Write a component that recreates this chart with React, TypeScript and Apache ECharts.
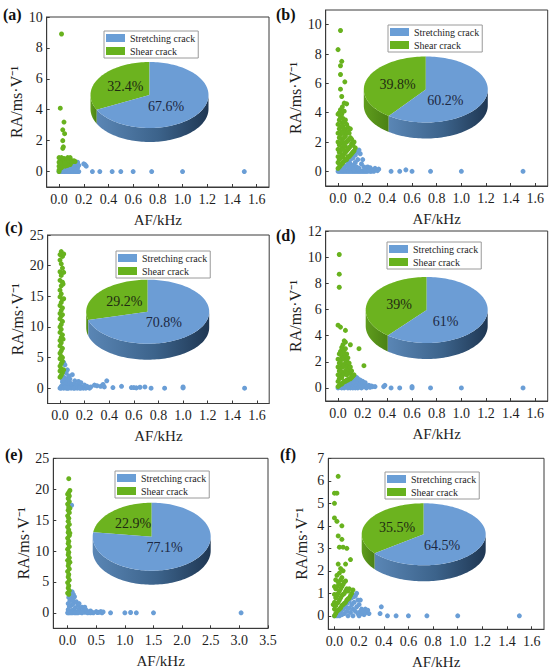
import React, { useEffect, useRef } from 'react';
import * as echarts from 'echarts';

const SERIF = 'Liberation Serif';
const LEGEND_NAMES = ['Stretching crack', 'Shear crack'];
const PANEL_LABELS = ['(a)', '(b)', '(c)', '(d)', '(e)', '(f)'];
const X_NAME = 'AF/kHz';
const Y_NAME = 'RA/ms·V⁻¹';

const xTicks16 = [0, 0.2, 0.4, 0.6, 0.8, 1.0, 1.2, 1.4, 1.6];
const xTicks35 = [0, 0.5, 1.0, 1.5, 2.0, 2.5, 3.0, 3.5];
const yTicksA = [0, 2, 4, 6, 8, 10];
const yTicksB = [0, 2, 4, 6, 8, 10];
const yTicksC = [0, 5, 10, 15, 20, 25];
const yTicksD = [0, 2, 4, 6, 8, 10, 12];
const yTicksE = [0, 5, 10, 15, 20, 25];
const yTicksF = [0, 1, 2, 3, 4, 5, 6, 7];

const shearPct = [32.4, 39.8, 29.2, 39, 22.9, 35.5];
const stretchPct = [67.6, 60.2, 70.8, 61, 77.1, 64.5];

// ---- panel (a)
const aBlue = [
  [0, 0], [0.01, 0], [0.02, 0], [0.03, 0], [0.04, 0], [0.05, 0], [0.06, 0], [0.07, 0], [0.08, 0], [0.09, 0],
  [0.1, 0], [0.11, 0], [0.12, 0], [0.13, 0], [0.14, 0], [0.15, 0], [0.16, 0],
  [0.03, 0.05], [0.05, 0.1], [0.07, 0.15], [0.08, 0.08], [0.09, 0.25], [0.1, 0.12], [0.11, 0.3], [0.12, 0.2],
  [0.12, 0.45], [0.13, 0.35], [0.14, 0.1], [0.14, 0.55], [0.15, 0.25], [0.15, 0.6], [0.16, 0.4], [0.06, 0.2],
  [0.1, 0.4], [0.13, 0.5], [0.2, 0.5], [0.21, 0.45], [0.22, 0.35],
  [0.27, 0], [0.33, 0], [0.43, 0], [0.5, 0], [0.6, 0], [0.75, 0], [1.0, 0], [1.5, 0],
];
const aGreen = [
  [0.02, 8.9], [0.01, 4.1], [0.04, 3.2], [0.03, 2.7], [0.045, 2.45], [0.03, 2.0], [0.035, 1.6], [0.03, 1.5],
  [0.0, 0.9], [0.02, 0.9], [0.04, 0.85], [0.07, 0.9], [0.09, 0.9], [0.0, 0.6], [0.01, 0.75], [0.03, 0.7],
  [0.05, 0.7], [0.06, 0.8], [0.08, 0.75], [0.1, 0.7], [0.11, 0.65], [0.12, 0.7], [0.13, 0.65], [0.0, 0.35],
  [0.02, 0.45], [0.04, 0.5], [0.06, 0.5], [0.08, 0.55], [0.09, 0.45], [0.1, 0.6], [0.0, 0.1], [0.01, 0.2],
  [0.02, 0.25], [0.03, 0.35], [0.05, 0.35], [0.07, 0.4], [0.0, 0.0], [0.01, 0.55], [0.05, 0.55],
];

// ---- panel (b)
const bBlue = [
  [0, 0], [0.01, 0], [0.02, 0], [0.03, 0], [0.04, 0], [0.05, 0], [0.06, 0], [0.07, 0], [0.08, 0], [0.09, 0],
  [0.1, 0], [0.11, 0], [0.12, 0], [0.13, 0], [0.14, 0], [0.15, 0], [0.16, 0], [0.17, 0], [0.18, 0], [0.19, 0],
  [0.2, 0], [0.21, 0], [0.22, 0], [0.23, 0], [0.24, 0], [0.26, 0], [0.27, 0], [0.29, 0],
  [0.03, 0.1], [0.05, 0.2], [0.06, 0.35], [0.08, 0.3], [0.08, 0.6], [0.1, 0.2], [0.1, 0.5], [0.1, 0.8],
  [0.12, 0.4], [0.12, 0.9], [0.13, 0.15], [0.14, 0.6], [0.14, 1.1], [0.15, 0.3], [0.15, 1.3], [0.16, 0.8],
  [0.17, 1.45], [0.17, 0.2], [0.18, 1.2], [0.19, 0.5], [0.2, 0.8], [0.21, 0.3], [0.22, 0.15], [0.24, 0.3],
  [0.25, 0.1], [0.26, 0.25], [0.28, 0.1], [0.3, 0.2], [0.32, 0.05], [0.33, 0.15],
  [0.43, 0], [0.5, 0], [0.55, 0.1], [0.6, 0], [0.75, 0], [1.0, 0], [1.5, 0],
];
const bGreen = [
  [0.02, 9.6], [0.0, 8.3], [0.03, 7.5], [0.02, 7.2], [0.02, 6.6], [0.055, 6.1], [0.02, 5.6], [0.03, 5.1],
  [0.05, 4.65], [0.07, 4.6], [0.0, 3.9], [0.02, 4.2], [0.035, 4.4],
  [0.0, 0.2], [0.0, 0.6], [0.0, 1.0], [0.0, 1.5], [0.0, 2.0], [0.0, 2.6], [0.0, 3.2],
  [0.01, 0.3], [0.01, 0.8], [0.01, 1.3], [0.01, 1.8], [0.01, 2.3], [0.01, 2.9], [0.01, 3.5], [0.01, 4.0],
  [0.02, 0.4], [0.02, 0.9], [0.02, 1.4], [0.02, 1.9], [0.02, 2.5], [0.02, 3.0], [0.02, 3.7],
  [0.03, 0.5], [0.03, 1.1], [0.03, 1.6], [0.03, 2.2], [0.03, 2.7], [0.03, 3.3], [0.03, 3.9],
  [0.04, 0.6], [0.04, 1.0], [0.04, 1.5], [0.04, 2.0], [0.04, 2.6], [0.04, 3.1], [0.04, 3.6],
  [0.05, 0.7], [0.05, 1.2], [0.05, 1.8], [0.05, 2.3], [0.05, 2.9], [0.05, 3.4], [0.05, 4.1],
  [0.06, 0.8], [0.06, 1.3], [0.06, 1.7], [0.06, 2.4], [0.06, 2.8], [0.06, 3.5],
  [0.07, 0.8], [0.07, 1.4], [0.07, 2.0], [0.07, 2.6], [0.07, 3.2],
  [0.08, 1.0], [0.08, 1.5], [0.08, 2.1], [0.08, 2.7], [0.08, 3.0],
  [0.09, 1.0], [0.09, 1.6], [0.09, 2.2], [0.09, 2.6],
  [0.1, 1.1], [0.1, 1.7], [0.1, 2.3], [0.1, 2.9],
  [0.11, 1.2], [0.11, 1.9], [0.11, 2.2], [0.12, 1.3], [0.12, 1.8], [0.13, 1.4], [0.13, 2.0], [0.14, 1.6],
];

// ---- panel (c)
const cBlue = [
  [0, 0], [0.01, 0.3], [0.02, 1.0], [0.02, 0.2], [0.03, 0.6], [0.03, 1.8], [0.04, 0.1], [0.04, 1.2],
  [0.05, 0.4], [0.05, 0.9], [0.06, 0.0], [0.06, 1.5], [0.07, 0.5], [0.08, 0.2], [0.08, 0.9], [0.09, 0.0],
  [0.1, 0.6], [0.1, 0.1], [0.11, 0.3], [0.12, 0.0], [0.12, 0.7], [0.13, 0.2], [0.14, 0.0], [0.14, 0.5],
  [0.15, 0.1], [0.16, 0.3], [0.17, 0.0], [0.18, 0.2], [0.19, 0.0], [0.2, 0.1], [0.21, 0.0], [0.23, 0.1],
  [0.24, 0.0], [0.01, 0.0], [0.03, 0.0], [0.05, 0.0], [0.07, 0.0], [0.11, 0.0], [0.16, 0.0], [0.02, 1.4], [0.01, 1.9],
  [0.03, 4.2], [0.04, 3.8], [0.06, 3.0], [0.05, 2.5], [0.07, 2.0], [0.1, 2.2], [0.08, 1.5], [0.12, 1.2],
  [0.15, 1.1], [0.17, 0.9], [0.2, 0.5], [0.22, 0.3], [0.25, 0.2], [0.28, 0.5], [0.3, 0.4], [0.33, 0.3],
  [0.35, 0.6], [0.36, 0.2], [0.38, 1.2], [0.43, 0.1], [0.5, 0.3], [0.58, 0.1], [0.6, 0.1], [0.62, 0.05],
  [0.65, 0.15], [0.69, 0.2], [0.74, 0.0], [0.85, 0.0], [1.0, 0.2], [1.0, 0.05], [1.5, 0.0],
];
const cGreen = [
  [0.01, 22.3], [0.0, 21.8], [0.02, 21.5], [0.0, 20.9], [0.01, 20.3], [0.02, 19.6], [0.0, 19.0], [0.01, 18.4],
  [0.0, 17.6], [0.02, 17.3], [0.01, 16.7], [0.0, 16.0], [0.01, 15.4], [0.0, 14.9], [0.02, 14.5], [0.01, 14.0],
  [0.0, 13.5], [0.02, 13.1], [0.01, 12.7], [0.0, 12.2], [0.01, 11.8], [0.0, 11.3], [0.02, 10.9], [0.01, 10.4],
  [0.0, 10.0], [0.01, 9.6], [0.0, 9.1], [0.02, 8.7], [0.01, 8.3], [0.0, 7.8], [0.01, 7.4], [0.0, 6.9],
  [0.02, 6.5], [0.01, 6.1], [0.0, 5.7], [0.01, 5.2], [0.0, 4.8], [0.02, 4.4], [0.01, 4.0], [0.0, 3.6],
  [0.01, 3.2], [0.0, 2.8], [0.02, 2.5], [0.01, 2.1], [0.0, 1.8],
  [0.03, 21.9], [0.03, 18.9], [0.025, 17.0], [0.03, 14.6], [0.02, 12.0], [0.025, 8.0], [0.02, 5.0], [0.03, 3.0],
];

// ---- panel (d)
const dBlue = [
  [0.0, 0.0], [0.02, 0.05], [0.03, 0.0], [0.04, 0.15], [0.05, 0.0], [0.06, 0.3], [0.07, 0.1], [0.08, 0.4],
  [0.08, 0.0], [0.09, 0.2], [0.1, 0.5], [0.1, 0.0], [0.11, 0.3], [0.12, 0.6], [0.12, 0.1], [0.12, 0.0],
  [0.13, 0.4], [0.14, 0.7], [0.14, 0.0], [0.15, 0.2], [0.16, 0.45], [0.16, 0.0], [0.17, 0.1], [0.18, 0.3],
  [0.19, 0.0], [0.2, 0.2], [0.21, 0.1], [0.23, 0.0], [0.24, 0.15], [0.26, 0.05],
  [0.15, 0.8], [0.16, 0.7], [0.18, 0.6], [0.2, 0.5], [0.22, 0.4], [0.25, 0.2], [0.27, 0.15], [0.28, 0.1],
  [0.3, 0.1], [0.37, 0.1], [0.38, 0.2], [0.43, 0.0], [0.5, 0.0], [0.6, 0.0], [0.6, 0.1], [0.75, 0.0],
  [1.0, 0.0], [1.5, 0.0],
];
const dGreen = [
  [0.01, 10.2], [0.01, 8.7], [0.01, 7.7], [0.0, 4.8], [0.02, 4.65], [0.06, 4.4], [0.05, 3.6], [0.06, 3.5],
  [0.1, 3.3], [0.17, 3.0], [0.21, 1.7],
  [0.0, 0.1], [0.0, 0.5], [0.0, 1.0], [0.0, 1.6], [0.0, 2.2],
  [0.01, 0.2], [0.01, 0.7], [0.01, 1.3], [0.01, 1.9], [0.01, 2.6],
  [0.02, 0.3], [0.02, 0.9], [0.02, 1.5], [0.02, 2.1], [0.02, 2.8],
  [0.03, 0.3], [0.03, 0.8], [0.03, 1.2], [0.03, 1.8], [0.03, 2.4], [0.03, 3.1],
  [0.04, 0.4], [0.04, 1.0], [0.04, 1.6], [0.04, 2.2], [0.04, 2.7], [0.04, 3.3],
  [0.05, 0.5], [0.05, 1.1], [0.05, 1.7], [0.05, 2.3], [0.05, 2.9],
  [0.06, 0.5], [0.06, 1.3], [0.06, 1.9], [0.06, 2.5], [0.06, 3.0],
  [0.07, 0.6], [0.07, 1.0], [0.07, 1.6], [0.07, 2.1], [0.07, 2.6],
  [0.08, 0.6], [0.08, 1.2], [0.08, 1.8], [0.08, 2.3],
  [0.09, 0.7], [0.09, 1.4], [0.09, 1.9], [0.1, 0.7], [0.1, 1.1], [0.1, 1.6],
  [0.11, 0.8], [0.11, 1.3], [0.12, 0.9], [0.13, 1.0],
];

// ---- panel (e)
const eBlue = [
  [0.07, 17.4],
  [0.0, 0.0], [0.01, 0.5], [0.01, 1.5], [0.02, 2.5], [0.03, 0.2], [0.03, 1.0], [0.04, 2.0], [0.05, 3.0],
  [0.05, 0.0], [0.06, 1.2], [0.07, 2.4], [0.08, 3.4], [0.08, 0.4], [0.1, 3.0], [0.1, 1.5], [0.11, 0.2],
  [0.12, 2.6], [0.13, 0.8], [0.15, 1.8], [0.16, 0.1], [0.18, 1.2], [0.2, 0.6], [0.2, 1.5], [0.22, 0.1],
  [0.25, 0.9], [0.27, 0.3], [0.3, 0.9], [0.3, 0.1], [0.33, 0.4], [0.36, 0.05], [0.4, 0.3], [0.42, 0.1],
  [0.45, 0.0], [0.5, 0.2], [0.52, 0.05], [0.55, 0.1], [0.58, 0.2], [0.6, 0.0], [0.62, 0.15],
  [0.02, 0.0], [0.08, 0.0], [0.12, 0.0], [0.15, 0.0], [0.18, 0.0], [0.25, 0.0], [0.35, 0.0], [0.4, 0.0],
  [0.06, 2.8], [0.09, 2.0],
  [0.75, 0.0], [1.0, 0.0], [1.1, 0.05], [1.2, 0.0], [1.5, 0.0], [3.03, 0.0],
];
const eGreen = [
  [0.02, 21.7], [0.04, 19.8], [0.02, 19.5], [0.0, 19.2], [0.03, 18.9], [0.01, 18.5], [0.03, 18.0], [0.0, 17.6],
  [0.02, 17.1], [0.01, 16.6], [0.03, 16.2], [0.0, 15.7], [0.02, 15.3], [0.01, 14.8], [0.03, 14.3], [0.0, 13.9],
  [0.02, 13.4], [0.01, 13.0], [0.03, 12.5], [0.0, 12.1], [0.02, 11.6], [0.01, 11.2], [0.03, 10.7], [0.0, 10.3],
  [0.02, 9.8], [0.01, 9.4], [0.03, 8.9], [0.0, 8.5], [0.02, 8.0], [0.01, 7.6], [0.03, 7.1], [0.0, 6.7],
  [0.02, 6.2], [0.01, 5.8], [0.03, 5.3], [0.0, 4.9], [0.02, 4.4], [0.01, 4.0], [0.03, 3.6], [0.0, 3.2],
  [0.02, 3.0], [0.04, 16.9], [0.04, 12.9], [0.04, 8.2],
];

// ---- panel (f)
const fBlue = [
  [0.0, 0.0], [0.02, 0.0], [0.03, 0.1], [0.04, 0.0], [0.05, 0.2], [0.06, 0.05], [0.07, 0.3], [0.08, 0.1],
  [0.09, 0.4], [0.1, 0.2], [0.1, 0.55], [0.11, 0.0], [0.12, 0.35], [0.12, 0.65], [0.13, 0.15], [0.14, 0.5],
  [0.14, 0.8], [0.15, 0.3], [0.15, 0.0], [0.16, 0.6], [0.17, 0.2], [0.17, 0.9], [0.18, 0.4], [0.19, 0.1],
  [0.19, 0.7], [0.2, 0.0], [0.21, 0.2], [0.24, 0.05], [0.22, 0.1],
  [0.18, 1.0], [0.16, 0.85], [0.21, 0.7], [0.2, 0.5], [0.22, 0.3], [0.23, 0.2], [0.25, 0.3], [0.26, 0.15],
  [0.27, 0.25], [0.28, 0.1], [0.38, 0.4], [0.37, 0.1], [0.43, 0.0], [0.5, 0.0], [0.6, 0.0], [0.75, 0.0],
  [1.0, 0.0], [1.5, 0.0],
];
const fGreen = [
  [0.03, 6.2], [0.0, 5.45], [0.02, 5.45], [0.0, 5.0], [0.0, 4.35], [0.02, 4.2], [0.06, 4.0], [0.03, 3.55],
  [0.06, 3.4], [0.04, 3.05], [0.07, 3.05], [0.1, 3.0], [0.13, 2.5], [0.03, 2.3], [0.09, 2.3], [0.05, 2.1], [0.07, 2.0],
  [0.0, 0.0], [0.0, 0.3], [0.0, 0.6], [0.0, 0.95], [0.0, 1.3], [-0.01, 0.5],
  [0.01, 0.1], [0.01, 0.45], [0.01, 0.8], [0.01, 1.2], [0.01, 1.6],
  [0.02, 0.2], [0.02, 0.55], [0.02, 0.9], [0.02, 1.3], [0.02, 1.8],
  [0.03, 0.25], [0.03, 0.6], [0.03, 1.0], [0.03, 1.5],
  [0.04, 0.3], [0.04, 0.7], [0.04, 1.1], [0.04, 1.4], [0.04, 1.9],
  [0.05, 0.35], [0.05, 0.8], [0.05, 1.2], [0.05, 1.6],
  [0.06, 0.45], [0.06, 0.9], [0.06, 1.3], [0.06, 1.7],
  [0.07, 0.5], [0.07, 0.95], [0.07, 1.4], [0.08, 0.55], [0.08, 1.0], [0.08, 1.5],
  [0.09, 0.6], [0.09, 1.1], [0.09, 1.55], [0.1, 0.7], [0.1, 1.2], [0.11, 0.75], [0.11, 1.1],
  [0.12, 0.8], [0.12, 1.2], [0.13, 0.9], [0.14, 1.0], [0.15, 1.15],
];

const blueSets = [aBlue, bBlue, cBlue, dBlue, eBlue, fBlue];
const greenSets = [aGreen, bGreen, cGreen, dGreen, eGreen, fGreen];
const xTickSets = [xTicks16, xTicks16, xTicks16, xTicks16, xTicks35, xTicks16];
const yTickSets = [yTicksA, yTicksB, yTicksC, yTicksD, yTicksE, yTicksF];

// layout (pixels) and axis extents
const LAYOUT = [
  { grid: [46.7, 17, 222.3, 170], x: [-0.1, 1.7], y: [-1, 10], legend: [104, 31], tag: [3, 6], pie: [149.5, 95, 59, 33, 14] },
  { grid: [325.7, 10, 222, 176], x: [-0.1, 1.7], y: [-1, 11], legend: [388, 25], tag: [276, 6], pie: [425.8, 89.5, 62, 33, 16] },
  { grid: [47.7, 235, 221.5, 168.5], x: [-0.1, 1.7], y: [-2.5, 25], legend: [116, 251], tag: [5, 219], pie: [147.7, 311.7, 61.5, 32, 16] },
  { grid: [325.7, 231, 222, 170], x: [-0.1, 1.7], y: [-1, 12], legend: [387, 242], tag: [276, 227], pie: [426.7, 310, 61, 33, 16] },
  { grid: [53.3, 458.3, 214.7, 170], x: [-0.25, 3.5], y: [-2.5, 25], legend: [115, 471], tag: [5, 446], pie: [151.7, 536.7, 59, 34, 14] },
  { grid: [328.3, 458.3, 215.7, 171], x: [-0.05, 1.7], y: [-0.6, 7], legend: [385, 472], tag: [280, 446], pie: [423.7, 534.3, 62, 31, 16] },
];

const BLUE_DOT = '#6a9ed6';
const GREEN_DOT = '#68b21e';
const BLUE_TOP = '#6c9dd5';
const GREEN_TOP = '#6cb31f';
const AXIS_C = '#3a3a3a';
const TEXT_C = '#1e1e1e';

function ellPt(cx: number, cy: number, rx: number, ry: number, deg: number, dy: number) {
  const r = (deg * Math.PI) / 180;
  return [cx + rx * Math.cos(r), cy - ry * Math.sin(r) + dy];
}
function arcPts(cx: number, cy: number, rx: number, ry: number, a0: number, a1: number, dy: number) {
  const pts: number[][] = [];
  const n = Math.max(2, Math.ceil(Math.abs(a1 - a0) / 2));
  for (let i = 0; i <= n; i++) pts.push(ellPt(cx, cy, rx, ry, a0 + ((a1 - a0) * i) / n, dy));
  return pts;
}

function pieSeries(i: number) {
  const [cx, cy, rx, ry, t] = LAYOUT[i].pie;
  return {
    type: 'custom',
    coordinateSystem: 'none',
    silent: true,
    z: 5,
    data: [shearPct[i], stretchPct[i]],
    renderItem: (params: any, api: any) => {
      const k = params.dataIndex;
      const val = api.value(0);
      const split = 90 + shearPct[i] * 3.6;
      const a0 = k === 0 ? 90 : split;
      const a1 = k === 0 ? split : 450;
      const children: any[] = [];
      const s = Math.max(a0, 180);
      const e = Math.min(a1, 360);
      if (s < e) {
        const top = arcPts(cx, cy, rx, ry, s, e, 0);
        const bot = arcPts(cx, cy, rx, ry, e, s, t);
        const fill =
          k === 0
            ? new echarts.graphic.LinearGradient(0, 0, 1, 0, [
                { offset: 0, color: '#5f9d1d' },
                { offset: 1, color: '#4b8114' },
              ])
            : new echarts.graphic.LinearGradient(0, 0, 1, 0, [
                { offset: 0, color: '#5a86b5' },
                { offset: 0.55, color: '#3c638b' },
                { offset: 1, color: '#1f3753' },
              ]);
        children.push({ type: 'polygon', shape: { points: top.concat(bot) }, style: { fill } });
      }
      const topPts = [[cx, cy]].concat(arcPts(cx, cy, rx, ry, a0, a1, 0));
      children.push({ type: 'polygon', shape: { points: topPts }, style: { fill: k === 0 ? GREEN_TOP : BLUE_TOP } });
      const mid = (((a0 + a1) / 2) * Math.PI) / 180;
      const lx = k === 0 ? cx + 0.48 * rx * Math.cos(mid) : cx + 0.33 * rx * Math.cos(mid);
      const ly = k === 0 ? cy - 0.5 * ry * Math.sin(mid) : cy + 11;
      children.push({
        type: 'text',
        style: {
          text: val + '%',
          x: lx,
          y: ly,
          align: 'center',
          verticalAlign: 'middle',
          fill: k === 0 ? '#1f2b12' : '#1c2842',
          fontSize: 14,
          fontFamily: SERIF,
        },
      });
      return { type: 'group', children };
    },
  };
}

export default function App() {
  const ref = useRef<HTMLDivElement>(null);
  useEffect(() => {
    if (!ref.current) return;
    const chart = echarts.init(ref.current, null, { renderer: 'svg' });
    const grid = LAYOUT.map((L) => ({
      left: L.grid[0],
      top: L.grid[1],
      width: L.grid[2],
      height: L.grid[3],
      show: true,
      borderColor: AXIS_C,
      borderWidth: 1,
      backgroundColor: 'transparent',
    }));
    const xAxis = LAYOUT.map((L, i) => ({
      type: 'value',
      gridIndex: i,
      min: L.x[0],
      max: L.x[1],
      name: X_NAME,
      nameLocation: 'middle',
      nameGap: 25,
      nameTextStyle: { fontFamily: SERIF, fontSize: 15, fontWeight: 'normal', color: TEXT_C },
      axisLine: { show: true, onZero: false, lineStyle: { color: AXIS_C } },
      axisTick: { show: true, inside: true, length: 3, customValues: xTickSets[i], lineStyle: { color: AXIS_C } },
      axisLabel: {
        customValues: xTickSets[i],
        formatter: (v: number) => v.toFixed(1),
        fontFamily: SERIF,
        fontSize: 14,
        color: TEXT_C,
        margin: 5,
      },
      splitLine: { show: false },
    }));
    const yAxis = LAYOUT.map((L, i) => ({
      type: 'value',
      gridIndex: i,
      min: L.y[0],
      max: L.y[1],
      name: Y_NAME,
      nameLocation: 'middle',
      nameGap: 19,
      nameTextStyle: { fontFamily: SERIF, fontSize: 16, fontWeight: 'normal', color: TEXT_C },
      axisLine: { show: true, onZero: false, lineStyle: { color: AXIS_C } },
      axisTick: { show: true, inside: true, length: 3, customValues: yTickSets[i], lineStyle: { color: AXIS_C } },
      axisLabel: {
        customValues: yTickSets[i],
        formatter: (v: number) => String(v),
        fontFamily: SERIF,
        fontSize: 14,
        color: TEXT_C,
        margin: 4,
      },
      splitLine: { show: false },
    }));
    const legend = LAYOUT.map((L) => ({
      data: LEGEND_NAMES,
      orient: 'vertical',
      left: L.legend[0],
      top: L.legend[1],
      icon: 'rect',
      itemWidth: 19,
      itemHeight: 8,
      itemGap: 3,
      padding: [2, 3, 2, 2],
      borderColor: '#9a9a9a',
      borderWidth: 1,
      backgroundColor: '#ffffff',
      selectedMode: false,
      textStyle: { fontFamily: SERIF, fontSize: 10, color: TEXT_C },
      z: 6,
    }));
    const series: any[] = [];
    LAYOUT.forEach((_, i) => {
      series.push({
        type: 'scatter',
        name: LEGEND_NAMES[0],
        xAxisIndex: i,
        yAxisIndex: i,
        data: blueSets[i],
        symbolSize: 5,
        itemStyle: { color: BLUE_DOT, opacity: 1 },
        z: 2,
      });
      series.push({
        type: 'scatter',
        name: LEGEND_NAMES[1],
        xAxisIndex: i,
        yAxisIndex: i,
        data: greenSets[i],
        symbolSize: 5,
        itemStyle: { color: GREEN_DOT, opacity: 1 },
        z: 3,
      });
      series.push(pieSeries(i));
    });
    const graphic = LAYOUT.map((L, i) => ({
      type: 'text',
      left: L.tag[0],
      top: L.tag[1],
      style: { text: PANEL_LABELS[i], fontSize: 16, fontWeight: 'bold', fontFamily: SERIF, fill: '#111' },
    }));
    chart.setOption({
      animation: false,
      backgroundColor: '#ffffff',
      textStyle: { fontFamily: SERIF },
      grid,
      xAxis,
      yAxis,
      legend,
      series,
      graphic,
    });
    return () => chart.dispose();
  }, []);
  return <div ref={ref} style={{ position: 'absolute', left: 0, top: 0, width: 550, height: 671 }} />;
}
